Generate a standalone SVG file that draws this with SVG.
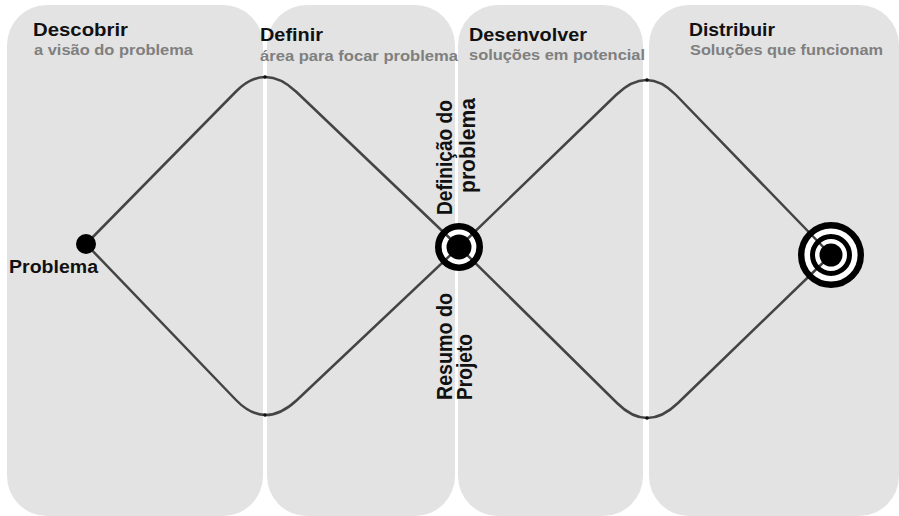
<svg xmlns="http://www.w3.org/2000/svg" width="899" height="516" viewBox="0 0 899 516">
<style>
.panel{fill:#e3e3e3}
.t{font-family:"Liberation Sans",Arial,sans-serif;font-weight:bold}
.title{font-size:18.5px;fill:#111}
.sub{font-size:15.5px;fill:#7f7f7f}
.rot{font-size:20px;fill:#111}
.line{fill:none;stroke:#444;stroke-width:2.5;stroke-linecap:round}
.pk{fill:#111}
</style>
<rect width="899" height="516" fill="#fff"/>
<g id="panel-descobrir">
<rect class="panel" x="7" y="5" width="256" height="511" rx="40"/>
<text class="t title" x="33" y="36" textLength="95" lengthAdjust="spacingAndGlyphs">Descobrir</text>
<text class="t sub" x="34" y="55" textLength="159" lengthAdjust="spacingAndGlyphs">a visão do problema</text>
</g>
<g id="panel-definir">
<rect class="panel" x="267" y="5" width="188" height="511" rx="40"/>
</g>
<g id="panel-desenvolver">
<rect class="panel" x="458" y="5" width="185" height="511" rx="40"/>
</g>
<g id="panel-distribuir">
<rect class="panel" x="649" y="5" width="250" height="511" rx="40"/>
<text class="t title" x="689" y="36" textLength="86" lengthAdjust="spacingAndGlyphs">Distribuir</text>
<text class="t sub" x="690" y="55" textLength="193" lengthAdjust="spacingAndGlyphs">Soluções que funcionam</text>
</g>
<g id="labels-mid">
<text class="t title" x="260" y="41" textLength="63" lengthAdjust="spacingAndGlyphs">Definir</text>
<text class="t sub" x="260" y="61" textLength="198" lengthAdjust="spacingAndGlyphs">área para focar problema</text>
<text class="t title" x="469" y="41" textLength="118" lengthAdjust="spacingAndGlyphs">Desenvolver</text>
<text class="t sub" x="469" y="60" textLength="176" lengthAdjust="spacingAndGlyphs">soluções em potencial</text>
</g>
<g id="target-center-bg">
<circle cx="459" cy="247" r="20" fill="#fff"/>
</g>
<g id="target-right-bg">
<circle cx="831" cy="255" r="30" fill="#fff"/>
</g>
<g id="connectors">
<path class="line" d="M86,244 L235.5,92 Q265,62 296.5,92 L459,247"/>
<path class="line" d="M86,244 L236,400 Q265,430 297,400 L459,247"/>
<path class="line" d="M459,247 L616,95 Q647,65 676,95 L831,255"/>
<path class="line" d="M459,247 L617,403 Q647,433 678,403 L831,255"/>
<circle class="pk" cx="265" cy="77" r="1.8"/>
<circle class="pk" cx="265" cy="415" r="1.8"/>
<circle class="pk" cx="647" cy="80" r="1.8"/>
<circle class="pk" cx="647" cy="418" r="1.8"/>
</g>
<g id="node-problema">
<circle cx="86" cy="244" r="10" fill="#000"/>
<text class="t" x="9" y="273" font-size="18" fill="#111" textLength="89" lengthAdjust="spacingAndGlyphs">Problema</text>
</g>
<g id="node-definicao">
<circle cx="459" cy="247" r="20.7" fill="none" stroke="#000" stroke-width="6.6"/>
<circle cx="459" cy="247" r="12.5" fill="#000"/>
<text class="t rot" transform="translate(452,215) scale(1.12,1) rotate(-90)" textLength="115" lengthAdjust="spacingAndGlyphs">Definição do</text>
<text class="t rot" transform="translate(475,193) scale(1.12,1) rotate(-90)" textLength="95" lengthAdjust="spacingAndGlyphs">problema</text>
<text class="t rot" transform="translate(452,400) scale(1.12,1) rotate(-90)" textLength="107" lengthAdjust="spacingAndGlyphs">Resumo do</text>
<text class="t rot" transform="translate(472,400) scale(1.12,1) rotate(-90)" textLength="66" lengthAdjust="spacingAndGlyphs">Projeto</text>
</g>
<g id="node-solucao">
<circle cx="831" cy="255" r="29.8" fill="none" stroke="#000" stroke-width="6.4"/>
<circle cx="831" cy="255" r="18.5" fill="none" stroke="#000" stroke-width="5"/>
<circle cx="831" cy="255" r="11.5" fill="#000"/>
</g>
</svg>
